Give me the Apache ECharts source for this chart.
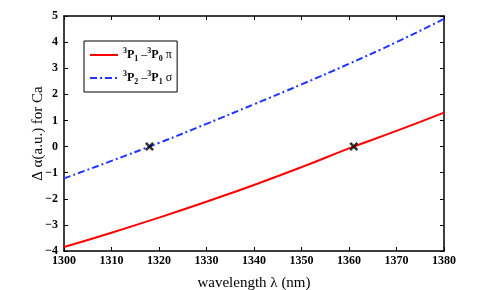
<!DOCTYPE html>
<html><head><meta charset="utf-8">
<script src="https://cdn.jsdelivr.net/npm/echarts@6/dist/echarts.min.js"></script>
<style>html,body{margin:0;padding:0;background:#fff}#c{width:491px;height:290px}</style>
</head><body><div id="c"></div>
<script>
var wavelengths = [1300, 1310, 1320, 1330, 1340, 1350, 1360, 1370, 1380];
var piValues    = [-3.85, -3.30, -2.72, -2.11, -1.47, -0.79, -0.07, 0.60, 1.30];
var sigmaValues = [-1.22, -0.55, 0.14, 0.87, 1.62, 2.38, 3.17, 4.00, 4.89];
var zeroCrossings = [[1318, 0], [1361, 0]];
var xTicks = [1300, 1310, 1320, 1330, 1340, 1350, 1360, 1370, 1380];
var yTicks = [-4, -3, -2, -1, 0, 1, 2, 3, 4, 5];
var piName = '{sup|3}{b|P}{sub|1}{t| \u2013}{sup|3}{b|P}{sub|0}{t| \u03c0}';
var sigmaName = '{sup|3}{b|P}{sub|2}{t| \u2013}{sup|3}{b|P}{sub|1}{t| \u03c3}';

var serif = 'Liberation Serif';
var chart = echarts.init(document.getElementById('c'), null, {renderer: 'canvas'});
function pairs(xs, ys){ return xs.map(function(x,i){return [x, ys[i]];}); }
var tickLabel = {fontFamily: serif, fontWeight: 'bold', fontSize: 12, color: '#000'};
var axLine = {show: true, onZero: false, lineStyle: {color: '#000', width: 1.5}};
var tick = {show: true, inside: true, length: 4, lineStyle: {color: '#000', width: 1}};
var rich = {
  sup: {fontFamily: serif, fontSize: 8, fontWeight: 'bold', color: '#000', verticalAlign: 'top', lineHeight: 16, padding:[0,0,6,0]},
  b: {fontFamily: serif, fontSize: 12, fontWeight: 'bold', color: '#000', lineHeight: 16},
  sub: {fontFamily: serif, fontSize: 8, fontWeight: 'bold', color: '#000', verticalAlign: 'bottom', lineHeight: 16, padding:[6,0,0,0]},
  t: {fontFamily: serif, fontSize: 12, color: '#000', lineHeight: 16}
};
chart.setOption({
  animation: false,
  grid: {left: 64, right: 47, top: 16, bottom: 39, outerBoundsMode: 'none', containLabel: false},
  legend: {
    orient: 'vertical', left: 84, top: 41,
    borderColor: '#000', borderWidth: 1, padding: [6, 5, 6, 5],
    itemWidth: 28, itemHeight: 10, itemGap: 7,
    itemStyle: {opacity: 0},
    data: [piName, sigmaName],
    textStyle: {rich: rich, fontFamily: serif, fontSize: 12}
  },
  xAxis: [{
    type: 'value', min: 1300, max: 1380, interval: 10,
    name: 'wavelength \u03bb (nm)', nameLocation: 'middle', nameGap: 25, nameMoveOverlap: false,
    nameTextStyle: {fontFamily: serif, fontSize: 15, color: '#000'},
    axisLine: axLine, axisTick: tick,
    axisLabel: Object.assign({margin: 4, formatter: function(v){return '' + v;}}, tickLabel),
    splitLine: {show: false}
  }, {
    type: 'value', position: 'top', min: 1300, max: 1380, interval: 10,
    axisLine: axLine, axisTick: tick, axisLabel: {show: false}, splitLine: {show: false}
  }],
  yAxis: [{
    type: 'value', min: -4, max: 5, interval: 1,
    name: '\u0394 \u03b1(a.u.) for Ca', nameLocation: 'middle', nameGap: 18, nameMoveOverlap: false,
    nameTextStyle: {fontFamily: serif, fontSize: 15, color: '#000'},
    axisLine: axLine, axisTick: tick,
    axisLabel: Object.assign({margin: 6, formatter: function(v){return v < 0 ? '\u2212' + (-v) : '' + v;}}, tickLabel),
    splitLine: {show: false}
  }, {
    type: 'value', position: 'right', min: -4, max: 5, interval: 1,
    axisLine: axLine, axisTick: tick, axisLabel: {show: false}, splitLine: {show: false}
  }],
  series: [{
    name: piName, type: 'line', symbol: 'none', smooth: true,
    data: pairs(wavelengths, piValues),
    lineStyle: {color: '#ff0000', width: 2}, itemStyle: {color: '#ff0000'}
  }, {
    name: sigmaName, type: 'line', symbol: 'none', smooth: true,
    data: pairs(wavelengths, sigmaValues),
    lineStyle: {color: '#2036ff', width: 2, type: [7, 3, 2, 3]}, itemStyle: {color: '#2036ff'}
  }, {
    type: 'scatter', data: zeroCrossings, z: 5,
    symbol: 'path://M2,0 L5,3 L8,0 L10,2 L7,5 L10,8 L8,10 L5,7 L2,10 L0,8 L3,5 L0,2 Z',
    symbolSize: 9, itemStyle: {color: '#000'}
  }]
});
</script></body></html>
